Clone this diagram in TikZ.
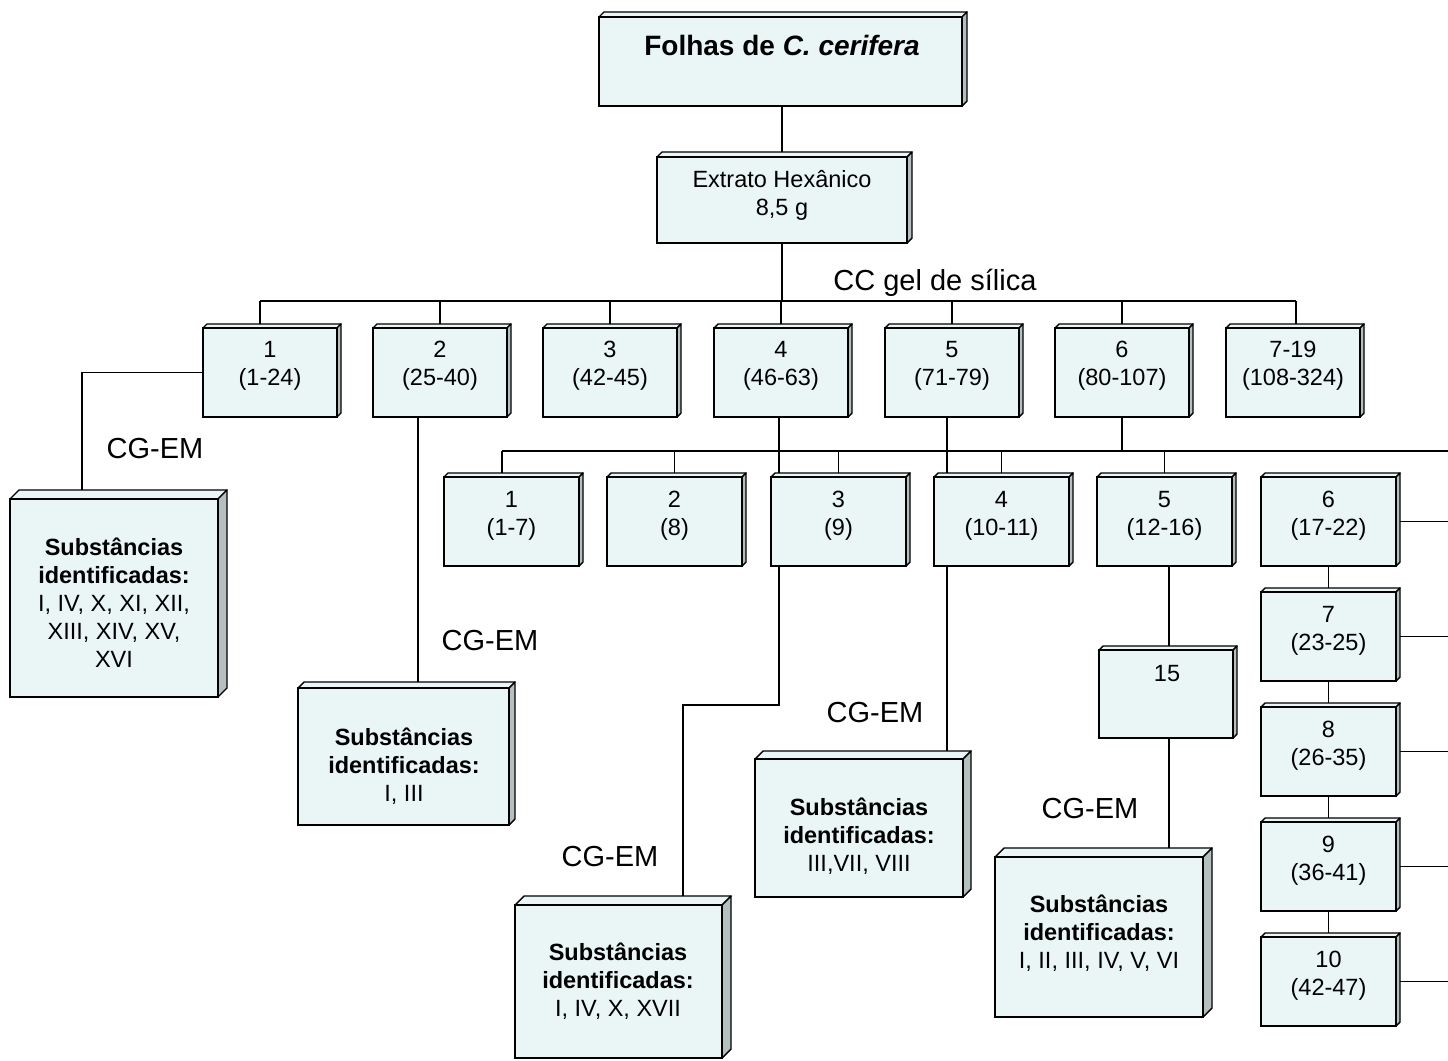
\documentclass[tikz,border=0pt]{standalone}
\usepackage{fontspec}
\setmainfont{Liberation Sans}
\usetikzlibrary{fit,backgrounds}
\definecolor{facefill}{HTML}{EAF6F6}
\definecolor{sidefill}{HTML}{B4C0C0}
\tikzset{
  front/.style={draw=black, line width=1.1pt, fill=facefill, inner sep=0pt, rectangle},
  depthface/.style={draw=black, line width=0.7pt, line join=round},
  txt/.style={align=center, inner sep=0pt, font=\fontsize{11.75}{14}\selectfont},
  bigtxt/.style={inner sep=0pt, font=\fontsize{14.5}{17}\selectfont},
  titletxt/.style={inner sep=0pt, font=\fontsize{14}{17}\selectfont\bfseries},
  conn/.style={line width=0.85pt, draw=black},
}
\newcommand\cubebox[6]{%
  \filldraw[depthface, fill=facefill] (#2,#3) -- (#2+#6,#3-#6) -- (#4+#6,#3-#6) -- (#4,#3) -- cycle;
  \filldraw[depthface, fill=sidefill] (#4,#3) -- (#4+#6,#3-#6) -- (#4+#6,#5-#6) -- (#4,#5) -- cycle;
  \node[front, fit={(#2,#3) (#4,#5)}] (#1) {};
}
\newcommand\subst[1]{\textbf{Substâncias}\\\textbf{identificadas:}\\#1}
\begin{document}
\begin{tikzpicture}[x=0.5pt,y=-0.5pt]
\useasboundingbox (0,0) rectangle (1448,1061);
\coordinate (edge) at (1448,0);

% ---- top boxes
\cubebox{top}{599}{17}{962}{106}{5}
\node[titletxt] (topt) at (782,45) {Folhas de \textit{C. cerifera}};
\cubebox{ext}{657}{157}{907}{243}{5}
\node[txt] (extt) at (782,195) {Extrato Hexânico\\8,5 g};
\node[bigtxt] (ccgel) at (935,283) {CC gel de sílica};

% ---- row 1
\cubebox{r1a}{203}{328}{337}{417}{4}
\cubebox{r1b}{373}{328}{507}{417}{4}
\cubebox{r1c}{543}{328}{677}{417}{4}
\cubebox{r1d}{714}{328}{848}{417}{4}
\cubebox{r1e}{885}{328}{1019}{417}{4}
\cubebox{r1f}{1055}{328}{1189}{417}{4}
\cubebox{r1g}{1226}{328}{1360}{417}{4}
\node[txt] (r1at) at (270,366) {1\\(1-24)};
\node[txt] (r1bt) at (440,366) {2\\(25-40)};
\node[txt] (r1ct) at (610,366) {3\\(42-45)};
\node[txt] (r1dt) at (781,366) {4\\(46-63)};
\node[txt] (r1et) at (952,366) {5\\(71-79)};
\node[txt] (r1ft) at (1122,366) {6\\(80-107)};
\node[txt] (r1gt) at (1293,366) {7-19\\(108-324)};

% ---- row 2
\cubebox{r2a}{444}{477}{579}{566}{4}
\cubebox{r2b}{607}{477}{742}{566}{4}
\cubebox{r2c}{771}{477}{906}{566}{4}
\cubebox{r2d}{934}{477}{1069}{566}{4}
\cubebox{r2e}{1097}{477}{1232}{566}{4}
\cubebox{r2f}{1261}{477}{1396}{566}{4}
\node[txt] (r2at) at (511.5,516) {1\\(1-7)};
\node[txt] (r2bt) at (674.5,516) {2\\(8)};
\node[txt] (r2ct) at (838.5,516) {3\\(9)};
\node[txt] (r2dt) at (1001.5,516) {4\\(10-11)};
\node[txt] (r2et) at (1164.5,516) {5\\(12-16)};
\node[txt] (r2ft) at (1328.5,516) {6\\(17-22)};

% ---- column
\cubebox{c7}{1261}{592}{1396}{681}{4}
\cubebox{c8}{1261}{707}{1396}{796}{4}
\cubebox{c9}{1261}{822}{1396}{911}{4}
\cubebox{c10}{1261}{937}{1396}{1026}{4}
\node[txt] (c7t) at (1328.5,631) {7\\(23-25)};
\node[txt] (c8t) at (1328.5,746) {8\\(26-35)};
\node[txt] (c9t) at (1328.5,861) {9\\(36-41)};
\node[txt] (c10t) at (1328.5,976) {10\\(42-47)};

% ---- box 15
\cubebox{b15}{1099}{650}{1233}{738}{4}
\node[txt] (b15t) at (1167,674) {15};

% ---- substance boxes
\cubebox{s1}{10}{499}{218}{697}{9}
\node[txt] (s1t) at (114,603) {\subst{I, IV, X, XI, XII,\\XIII, XIV, XV,\\XVI}};
\cubebox{s2}{298}{688}{509}{825}{6}
\node[txt] (s2t) at (404,766) {\subst{I, III}};
\cubebox{s3}{515}{905}{722}{1058}{9}
\node[txt] (s3t) at (618,981) {\subst{I, IV, X, XVII}};
\cubebox{s4}{755}{759}{963}{897}{8}
\node[txt] (s4t) at (859,836) {\subst{III,VII, VIII}};
\cubebox{s5}{995}{857}{1203}{1017}{9}
\node[txt] (s5t) at (1099,933) {\subst{I, II, III, IV, V, VI}};

% ---- CG-EM labels
\node[bigtxt] (cg1) at (155,449) {CG-EM};
\node[bigtxt] (cg2) at (490,641) {CG-EM};
\node[bigtxt] (cg3) at (610,857) {CG-EM};
\node[bigtxt] (cg4) at (875,713) {CG-EM};
\node[bigtxt] (cg5) at (1090,809) {CG-EM};

% ---- connectors
\coordinate (bus1L) at (260,301);
\coordinate (bus1R) at (1296,301);
\coordinate (bus2L) at (502,451);
\coordinate (k1) at (82,499);
\coordinate (k2) at (418,688);
\coordinate (k4) at (779,705);
\coordinate (k4b) at (683,905);
\coordinate (k5) at (947,759);
\coordinate (k15) at (1169,857);
\begin{scope}[on background layer]
\fill[white] (0,0) rectangle (1448,1061);
\draw[conn] (ext.north) -- (ext.north |- top.south);
\draw[conn] (ext.south) -- (ext.south |- bus1L);
\draw[conn] (bus1L) -- (bus1R);
\draw[conn] (bus1L) -- (bus1L |- r1a.north);
\foreach \b in {r1b,r1c,r1d,r1e,r1f} \draw[conn] (\b.north) -- (\b.north |- bus1L);
\draw[conn] (bus1R) -- (bus1R |- r1g.north);
% row 2 bus
\draw[conn] (r1f.south) -- (r1f.south |- bus2L);
\draw[conn] (bus2L) -- (bus2L -| edge);
\draw[conn] (bus2L) -- (bus2L |- r2a.north);
\foreach \b in {r2b,r2c,r2d,r2e} \draw[conn] (\b.north) -- (\b.north |- bus2L);
% fraction 1
\draw[conn] (r1a.west) -- (r1a.west -| k1) -- (k1);
% fraction 2
\draw[conn] (k2 |- r1b.south) -- (k2);
% fraction 4
\draw[conn] (k4 |- r1d.south) -- (k4 |- r2c.north);
\draw[conn] (k4 |- r2c.south) -- (k4) -- (k4 -| k4b) -- (k4b);
% fraction 5
\draw[conn] (k5 |- r1e.south) -- (k5 |- r2d.north);
\draw[conn] (k5 |- r2d.south) -- (k5);
% fraction 5 of row 2
\draw[conn] (k15 |- r2e.south) -- (k15 |- b15.north);
\draw[conn] (k15 |- b15.south) -- (k15);
% column
\draw[conn] (r2f.south) -- (c7.north);
\draw[conn] (c7.south) -- (c8.north);
\draw[conn] (c8.south) -- (c9.north);
\draw[conn] (c9.south) -- (c10.north);
\foreach \b in {r2f,c7,c8,c9,c10} \draw[conn] (\b.east) -- (\b.east -| edge);
\end{scope}
\end{tikzpicture}
\end{document}
